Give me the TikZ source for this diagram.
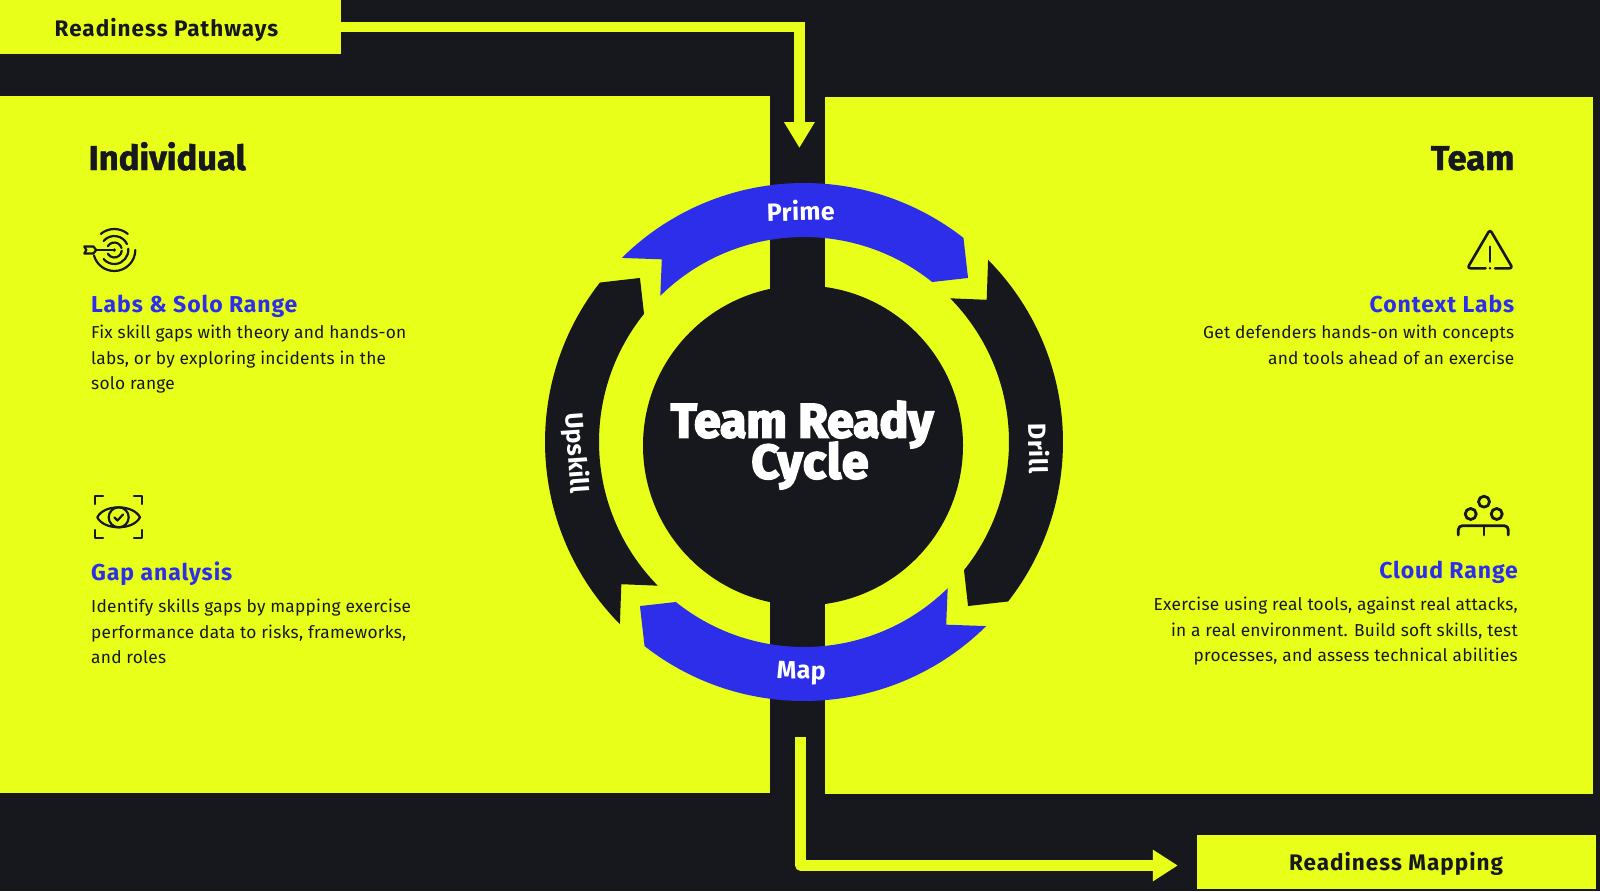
\documentclass[tikz,border=0pt]{standalone}
\usepackage{fontspec}
\usetikzlibrary{arrows.meta,calc}
\setmainfont{Fira Sans}
\newfontfamily\bodyf[LetterSpace=1.5]{Fira Sans}
\newfontfamily\headf[UprightFont=* Bold,LetterSpace=4]{Fira Sans}
\newfontfamily\boxf[UprightFont=* Bold,LetterSpace=4.5]{Fira Sans}
\newfontfamily\ringf[UprightFont=* Bold,LetterSpace=1.5]{Fira Sans}
\newfontfamily\heavyf[UprightFont=* Bold,FakeBold=1.4]{Fira Sans}
\newfontfamily\blackf[UprightFont=* Bold,FakeBold=4]{Fira Sans}
\definecolor{yel}{HTML}{E8FF19}
\definecolor{ink}{HTML}{16181D}
\definecolor{blu}{HTML}{2D2EEA}
\tikzset{
  x=1pt,y=1pt,
  boxnode/.style={fill=yel,draw=none,inner sep=0pt,outer sep=0pt},
  boxlabel/.style={text=ink,inner sep=0pt,anchor=base,font=\boxf\fontsize{22.5}{26}\selectfont},
  section/.style={text=ink,inner sep=0pt,font=\heavyf\fontsize{34.5}{40}\selectfont},
  item/.style={text=blu,inner sep=0pt,font=\headf\fontsize{23}{28}\selectfont},
  bodytext/.style={text=ink,inner sep=0pt,font=\bodyf\fontsize{17.3}{25.5}\selectfont},
  ringlabel/.style={text=white,inner sep=0pt,font=\ringf\fontsize{25}{29}\selectfont},
  conn/.style={draw=yel},
  icon/.style={draw=ink,line width=2.2pt,line cap=round,line join=round},
}
\begin{document}
\begin{tikzpicture}
\useasboundingbox (0,-891) rectangle (1600,0);
\fill[ink] (0,-891) rectangle (1600,0);
% panels
\node[boxnode,minimum width=769.6pt,minimum height=696.7pt] (panelL) at (384.8,-444.65) {};
\node[boxnode,minimum width=768.2pt,minimum height=697pt] (panelR) at (1208.9,-445.8) {};
\node[boxnode,minimum width=341pt,minimum height=54pt] (pathways) at (170.5,-27) {};
\node[boxnode,minimum width=399pt,minimum height=54.5pt] (mapping) at (1396,-862.2) {};
\node[boxlabel] (pathwaysT) at (166.5,-37) {Readiness Pathways};
\node[boxlabel] (mappingT) at (1396,-870.3) {Readiness Mapping};
% connectors
\coordinate (intip) at (799.4,-148);
\coordinate (mapstart) at (800.7,-736.7);
\coordinate (maptip) at (1177.8,-865.5);
\draw[conn,line width=10.4pt,line join=miter,-{Triangle[length=26pt,width=29pt]}] (pathways.east) -| (intip);
\draw[conn,line width=10.6pt,line join=round,-{Triangle[length=25pt,width=30pt]}] (mapstart) |- (maptip);
% ring
\coordinate (rc) at (804,-442);
\foreach \r/\c in {0/blu,-90/ink,-180/blu,90/ink}{
  \fill[\c] ($(rc)+(134.7+\r:259)$) arc[start angle=134.7+\r,end angle=52+\r,radius=259pt]
    -- ($(rc)+(45+\r:232)$) -- ($(rc)+(51.3+\r:205)$)
    arc[start angle=51.3+\r,end angle=134.5+\r,radius=205pt]
    -- ($(rc)+(127.9+\r:231.5)$) -- cycle;
}
\node[fill=ink,circle,minimum size=320pt,inner sep=0pt] (hub) at (803,-445.5) {};
\node[text=white,inner sep=0pt,align=center,font=\blackf\fontsize{48}{41}\selectfont] (hubT) at (802,-445) {Team Ready\\[-7pt]\hspace*{16pt}{\addfontfeature{LetterSpace=2}Cycle}};
\node[ringlabel,anchor=base,rotate=1.5] (prime) at (801,-220.7) {Prime};
\node[ringlabel,anchor=base,rotate=-1.5] (map) at (801,-679) {Map};
\node[ringlabel,rotate=-86] (upskill) at (575.6,-453) {Upskill};
\node[ringlabel,rotate=-89] (drill) at (1039,-448.6) {Drill};
% headings
\node[section,anchor=base west] (indiv) at (88.5,-170) {Individual};
\node[section,anchor=base east] (team) at (1514.5,-170) {Team};
% left items
\node[item,anchor=base west] (labs) at (91,-312) {Labs \& Solo Range};
\node[bodytext,anchor=north west,align=left] (labsT) at (91,-325) {Fix skill gaps with theory and hands-on\\labs, or by exploring incidents in the\\solo range};
\node[item,anchor=base west] (gap) at (91,-580.6) {Gap analysis};
\node[bodytext,anchor=north west,align=left] (gapT) at (91,-599) {Identify skills gaps by mapping exercise\\performance data to risks, frameworks,\\and roles};
% right items
\node[item,anchor=base east] (ctx) at (1514.5,-312) {Context Labs};
\node[bodytext,anchor=north east,align=right] (ctxT) at (1514.5,-325) {Get defenders hands-on with concepts\\and tools ahead of an exercise};
\node[item,anchor=base east] (cloud) at (1518,-578.3) {Cloud Range};
\node[bodytext,anchor=north east,align=right] (cloudT) at (1518,-597) {Exercise using real tools, against real attacks,\\in a real environment. Build soft skills, test\\processes, and assess technical abilities};
% target icon
\begin{scope}[shift={(114.3,-250)},icon]
  \draw (130:21) arc[start angle=130,end angle=50,radius=21pt];
  \draw (0:21) arc[start angle=0,end angle=-165,radius=21pt];
  \draw (140:14) arc[start angle=140,end angle=25,radius=14pt];
  \draw (5:14) arc[start angle=5,end angle=-140,radius=14pt];
  \draw (150:7.5) arc[start angle=150,end angle=15,radius=7.5pt];
  \draw (-5:7.5) arc[start angle=-5,end angle=-150,radius=7.5pt];
  \fill[ink] (0,0) circle[radius=1.8pt];
  \draw (-30,3.5) -- (-21,3.5) -- (-18,0) -- (-21,-3.5) -- (-30,-3.5) -- (-28,0) -- cycle;
  \draw (-18,0) -- (0,0);
\end{scope}
% eye icon
\begin{scope}[icon]
  \draw (95,-504) -- (95,-496) -- (103,-496);
  \draw (134,-496) -- (142,-496) -- (142,-504);
  \draw (95,-530) -- (95,-538) -- (103,-538);
  \draw (134,-538) -- (142,-538) -- (142,-530);
  \draw (97.3,-517.3) .. controls (104,-504) and (133,-504) .. (140,-517.3) .. controls (133,-530.6) and (104,-530.6) .. (97.3,-517.3) -- cycle;
  \draw (118.7,-517.3) circle[radius=10pt];
  \draw (114.5,-517.5) -- (117.5,-520.5) -- (123,-514.5);
\end{scope}
% warning icon
\begin{scope}[icon,line width=2.6pt,rounded corners=3pt]
  \draw (1485.5,-268.3) -- (1467.3,-268.3) -- (1490,-229.5) -- (1512.7,-268.3) -- (1495,-268.3);
\end{scope}
\draw[icon,line width=2.6pt] (1490,-246.7) -- (1490,-261.7);
\fill[ink] (1490,-268.3) circle[radius=1.4pt];
% people icon
\begin{scope}[icon,line width=2.8pt]
  \draw (1484,-501.7) circle[radius=5.5pt];
  \draw (1470.7,-514) circle[radius=5.5pt];
  \draw (1496.7,-514) circle[radius=5.5pt];
  \draw[rounded corners=4pt] (1458.3,-535) -- (1458.3,-525.7) -- (1508.3,-525.7) -- (1508.3,-535);
  \draw (1484,-525.7) -- (1484,-535);
\end{scope}
\end{tikzpicture}
\end{document}
